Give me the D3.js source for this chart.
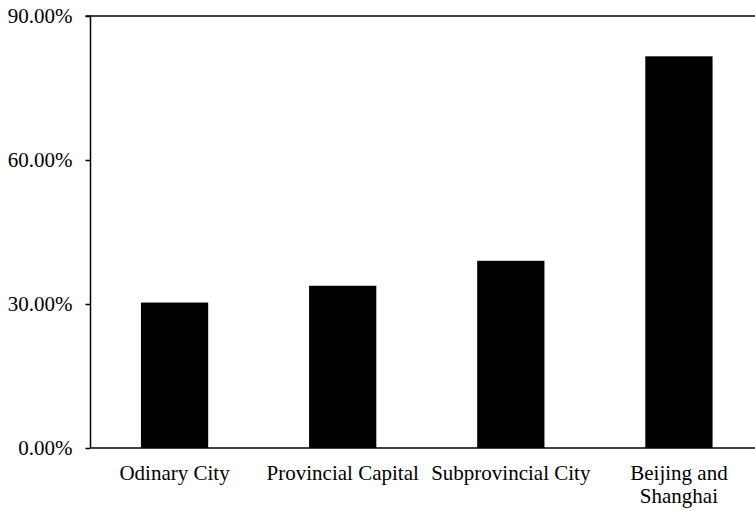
<!DOCTYPE html>
<html>
<head>
<meta charset="utf-8">
<script src="https://cdn.jsdelivr.net/npm/d3@7/dist/d3.min.js"></script>
<style>
  html, body { margin: 0; padding: 0; background: #fff; }
  svg { display: block; }
  text { font-family: "Liberation Serif", "Times New Roman", serif; fill: #000; }
</style>
</head>
<body>
<svg id="chart" width="755" height="511"></svg>
<script>
// City tiers and their shares
const categories = ["Odinary City", "Provincial Capital", "Subprovincial City", "Beijing and\nShanghai"];
const shares = [30.3, 33.8, 39.0, 81.6];
const yTicks = [0, 30, 60, 90];

const svg = d3.select("#chart");
const plotLeft = 90.5, plotRight = 763, plotTop = 16, plotBottom = 448;
const fontSize = 21;

const x = d3.scaleBand().domain(categories).range([plotLeft, plotRight]).paddingInner(0.6).paddingOuter(0.3);
const y = d3.scaleLinear().domain([0, 90]).range([plotBottom, plotTop]);

// Bars
svg.append("g").selectAll("rect")
  .data(categories)
  .join("rect")
  .attr("x", d => x(d))
  .attr("width", x.bandwidth())
  .attr("y", (d, i) => y(shares[i]))
  .attr("height", (d, i) => y(0) - y(shares[i]))
  .attr("fill", "#000");

// Top rule of the plot frame
svg.append("line").attr("x1", plotLeft).attr("x2", plotRight).attr("y1", plotTop).attr("y2", plotTop)
  .attr("stroke", "#000").attr("stroke-width", 1.5);

// Y axis
const yAxis = d3.axisLeft(y).tickValues(yTicks).tickSize(5).tickPadding(13)
  .tickFormat(d => d.toFixed(2) + "%");
const gy = svg.append("g").attr("transform", `translate(${plotLeft},0)`).call(yAxis)
  .attr("font-family", "'Liberation Serif', serif").attr("font-size", fontSize);
gy.select(".domain").attr("stroke", "#000").attr("stroke-width", 1.5).attr("d", `M-5,${plotTop}H0V${plotBottom}`);
gy.selectAll(".tick line").attr("stroke", "#000").attr("stroke-width", 1.5);
gy.selectAll(".tick text").attr("fill", "#000");

// X axis baseline and category labels
const xAxis = d3.axisBottom(x).tickSize(0).tickPadding(0).tickFormat("");
const gx = svg.append("g").attr("transform", `translate(0,${plotBottom})`).call(xAxis)
  .attr("font-family", "'Liberation Serif', serif").attr("font-size", fontSize);
gx.select(".domain").attr("stroke", "#000").attr("stroke-width", 1.5).attr("d", `M${plotLeft},0H${plotRight}`);

gx.selectAll(".tick").each(function(d) {
  const lines = d.split("\n");
  const t = d3.select(this).append("text")
    .attr("text-anchor", "middle")
    .attr("fill", "#000");
  lines.forEach((ln, i) => {
    t.append("tspan").attr("x", 0).attr("y", 32 + i * 22.5).text(ln);
  });
});
</script>
</body>
</html>
